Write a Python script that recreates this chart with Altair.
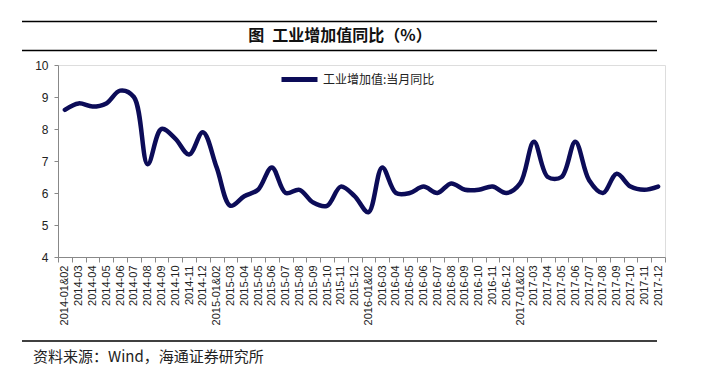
import altair as alt
import pandas as pd

categories = [
    "2014-01&02", "2014-03", "2014-04", "2014-05", "2014-06", "2014-07", "2014-08",
    "2014-09", "2014-10", "2014-11", "2014-12",
    "2015-01&02", "2015-03", "2015-04", "2015-05", "2015-06", "2015-07", "2015-08",
    "2015-09", "2015-10", "2015-11", "2015-12",
    "2016-01&02", "2016-03", "2016-04", "2016-05", "2016-06", "2016-07", "2016-08",
    "2016-09", "2016-10", "2016-11", "2016-12",
    "2017-01&02", "2017-03", "2017-04", "2017-05", "2017-06", "2017-07", "2017-08",
    "2017-09", "2017-10", "2017-11", "2017-12",
]
values = [
    8.6, 8.8, 8.7, 8.8, 9.2, 9.0, 6.9, 8.0, 7.7, 7.2, 7.9,
    6.8, 5.6, 5.9, 6.1, 6.8, 6.0, 6.1, 5.7, 5.6, 6.2, 5.9,
    5.4, 6.8, 6.0, 6.0, 6.2, 6.0, 6.3, 6.1, 6.1, 6.2, 6.0,
    6.3, 7.6, 6.5, 6.5, 7.6, 6.4, 6.0, 6.6, 6.2, 6.1, 6.2,
]
series_name = "工业增加值:当月同比"
title_text = "图\u2002工业增加值同比（%）"
source_text = "资料来源：Wind，海通证券研究所"

df = pd.DataFrame({"cat": categories, "val": values, "series": series_name})
one = pd.DataFrame({"a": [0]})

CJK = "Noto Sans CJK SC"
LAT = "Liberation Sans"
LINE_COLOR = "#0c0c58"

line = alt.Chart(df).mark_line(
    strokeWidth=4.5, interpolate="catmull-rom", strokeCap="round"
).encode(
    x=alt.X(
        "cat:O",
        sort=categories,
        scale=alt.Scale(type="band", paddingInner=0, paddingOuter=0),
        axis=alt.Axis(
            title=None, labelAngle=270, labelFont=LAT, labelFontSize=11,
            labelColor="#222", tickBand="extent", tickSize=5, tickColor="#888",
            domainColor="#888", labelPadding=3, grid=False, labelOverlap=False,
        ),
    ),
    y=alt.Y(
        "val:Q",
        scale=alt.Scale(domain=[4, 10], nice=False, zero=False),
        axis=alt.Axis(
            title=None, values=[4, 5, 6, 7, 8, 9, 10], labelFont=LAT,
            labelFontSize=12, labelColor="#222", tickSize=4, tickColor="#888",
            domainColor="#888", labelPadding=6, grid=False, format="d",
        ),
    ),
    color=alt.Color(
        "series:N",
        scale=alt.Scale(range=[LINE_COLOR]),
        legend=alt.Legend(
            title=None, orient="none", legendX=221, legendY=-6,
            symbolType="stroke", symbolSize=1296, symbolStrokeWidth=5,
            labelFont=CJK, labelFontSize=12, labelColor="#222", labelOffset=3,
        ),
    ),
)

def hrule(y):
    return alt.Chart(one).mark_rule(color="#000", strokeWidth=1.5).encode(
        x=alt.value(-36), x2=alt.value(599), y=alt.value(y)
    )

title = alt.Chart(one).mark_text(
    text=title_text, font=CJK, fontSize=16, fontWeight="bold",
    align="center", baseline="middle", color="#111",
).encode(x=alt.value(282), y=alt.value(-29))

source = alt.Chart(one).mark_text(
    text=source_text, font=CJK, fontSize=15, align="left",
    baseline="middle", color="#222",
).encode(x=alt.value(-25), y=alt.value(292))

chart = alt.layer(
    line, hrule(-43.5), hrule(-14.5), hrule(276), title, source
).properties(
    width=607, height=192,
    padding={"left": 50, "top": 57, "right": 40, "bottom": 115},
    autosize=alt.AutoSizeParams(type="none"),
).configure_view(stroke=None).configure(background="white")

chart.save("out.html", embed_options={"renderer": "svg", "actions": False})
